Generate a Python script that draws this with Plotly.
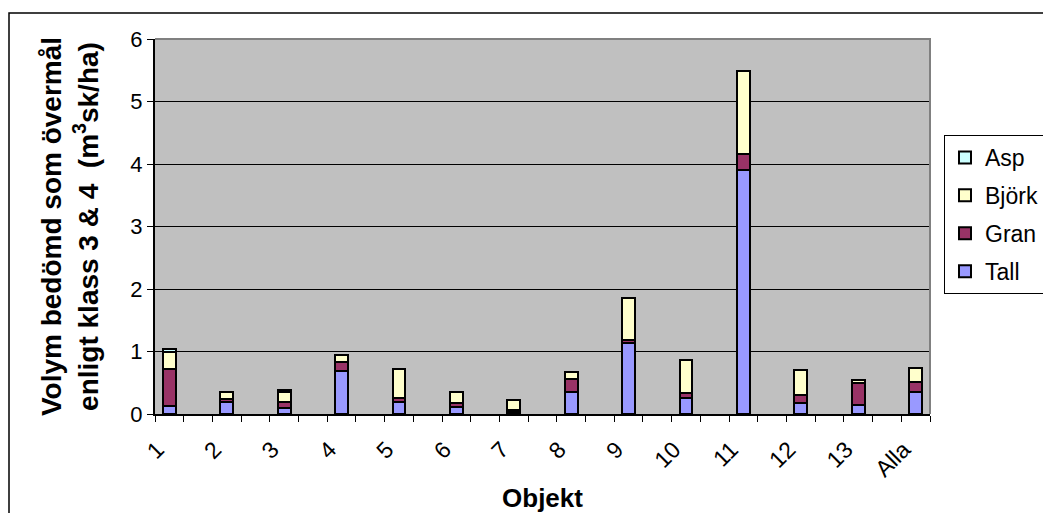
import plotly.graph_objects as go

# Volume judged as overstorey (class 3 & 4) per object, m3sk/ha, stacked by species
objekt = ["1", "2", "3", "4", "5", "6", "7", "8", "9", "10", "11", "12", "13", "Alla"]
tall = [0.13, 0.19, 0.09, 0.69, 0.19, 0.12, 0.03, 0.36, 1.13, 0.25, 3.90, 0.18, 0.14, 0.36]
gran = [0.59, 0.05, 0.11, 0.14, 0.07, 0.05, 0.04, 0.20, 0.05, 0.09, 0.26, 0.12, 0.36, 0.16]
bjork = [0.27, 0.12, 0.15, 0.11, 0.46, 0.18, 0.15, 0.12, 0.67, 0.52, 1.33, 0.41, 0.04, 0.21]
asp = [0.05, 0.00, 0.04, 0.00, 0.00, 0.00, 0.00, 0.00, 0.00, 0.00, 0.00, 0.00, 0.00, 0.00]

# stacking order bottom -> top, with legend rank (top of legend first)
series = [
    ("Tall", tall, "#9999FF", 4),
    ("Gran", gran, "#993366", 3),
    ("Björk", bjork, "#FFFFCC", 2),
    ("Asp", asp, "#CCFFFF", 1),
]

# every object sits in its own slot with an empty slot between objects
pos = [2 * i + 1 for i in range(len(objekt))]

FONT = "Liberation Sans, Arial, sans-serif"

fig = go.Figure()
for name, vals, col, rank in series:
    fig.add_trace(go.Bar(
        x=pos, y=vals, name=name, legendgroup=name, legendrank=rank,
        width=0.45,
        marker=dict(color=col, line=dict(color="black", width=2)),
    ))

L, R, T, B = 155, 113, 39, 99
W, H = 1043, 513
pw, ph = W - L - R, H - T - B

fig.update_layout(
    width=W, height=H,
    margin=dict(l=L, r=R, t=T, b=B, autoexpand=False),
    barmode="stack",
    paper_bgcolor="white",
    plot_bgcolor="#C0C0C0",
    font=dict(family=FONT, color="black", size=22),
    showlegend=True,
    legend=dict(
        x=(944 - L) / pw, xanchor="left",
        y=(H - B - 135) / ph, yanchor="top",
        traceorder="grouped",
        tracegroupgap=5,
        bgcolor="white",
        bordercolor="black", borderwidth=1,
        font=dict(family=FONT, size=23, color="black"),
    ),
    xaxis=dict(
        range=[0.5, 2 * len(objekt) - 0.5],
        tickmode="array", tickvals=pos, ticktext=objekt,
        tickangle=-45,
        ticks="", showgrid=False, zeroline=False,
        showline=True, linecolor="black", linewidth=2,
        tickfont=dict(family=FONT, size=23),
        ticklabelstandoff=11,
        ticklabelshift=-12,
        minor=dict(tick0=0.5, dtick=1, ticks="outside", ticklen=6,
                   tickcolor="black", tickwidth=1, showgrid=False),
        title=dict(text="<b>Objekt</b>", font=dict(family=FONT, size=26), standoff=10),
        automargin=False,
    ),
    yaxis=dict(
        range=[0, 6], tickmode="linear", tick0=0, dtick=1,
        ticks="outside", ticklen=6, tickcolor="black", tickwidth=1,
        showgrid=True, gridcolor="black", gridwidth=1,
        zeroline=False,
        showline=True, linecolor="black", linewidth=2,
        tickfont=dict(family=FONT, size=22),
        title=dict(
            text="<b>Volym bedömd som övermål<br>enligt klass 3 &amp; 4&nbsp; (m<sup>3</sup>sk/ha)</b>",
            font=dict(family=FONT, size=28), standoff=24,
        ),
        automargin=False,
    ),
    shapes=[
        # grey frame on the top and right of the plot area
        dict(type="path", xref="paper", yref="paper",
             path="M 0,1 L 1,1 L 1,0", line=dict(color="#808080", width=2),
             layer="above"),
        # outer chart border
        dict(type="rect", xref="paper", yref="paper",
             x0=(9 - L) / pw, x1=1.3,
             y0=-0.4, y1=(H - B - 13) / ph,
             line=dict(color="black", width=1.5), fillcolor="rgba(0,0,0,0)",
             layer="below"),
    ],
)

fig.write_html("out.html")
